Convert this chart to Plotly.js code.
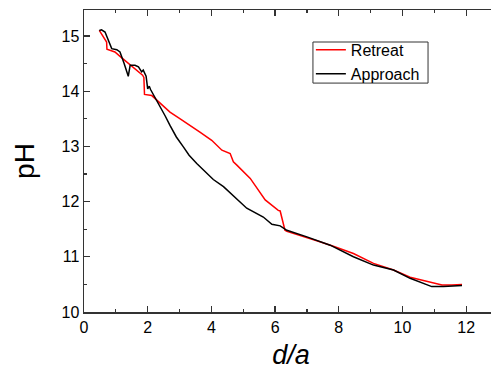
<!DOCTYPE html>
<html>
<head>
<meta charset="utf-8">
<script src="https://cdn.plot.ly/plotly-3.0.1.min.js"></script>
<style>
html, body { margin: 0; padding: 0; overflow: hidden; background: #fff; }
#chart { width: 498px; height: 374px; }
</style>
</head>
<body>
<div id="chart"></div>
<script>
// Retreat (red)
const retreatX = [0.48, 0.60, 0.71, 0.72, 0.85, 0.97, 1.15, 1.34, 1.60, 1.84, 1.88, 1.90, 2.13, 2.40, 2.70, 3.02, 3.35, 3.64, 4.01, 4.33, 4.59, 4.69, 4.80, 5.22, 5.69, 6.10, 6.16, 6.31, 6.37, 6.79, 7.31, 7.83, 8.46, 9.09, 9.72, 10.24, 10.77, 10.97, 11.24, 11.55, 11.87];
const retreatY = [15.10, 15.00, 14.89, 14.76, 14.74, 14.71, 14.62, 14.53, 14.41, 14.29, 14.25, 13.94, 13.92, 13.77, 13.62, 13.50, 13.38, 13.26, 13.11, 12.93, 12.87, 12.72, 12.66, 12.42, 12.03, 11.84, 11.83, 11.48, 11.46, 11.39, 11.29, 11.19, 11.06, 10.88, 10.76, 10.63, 10.55, 10.52, 10.49, 10.49, 10.50];
// Approach (black)
const approachX = [0.48, 0.55, 0.66, 0.75, 0.82, 0.87, 1.03, 1.13, 1.26, 1.39, 1.45, 1.60, 1.71, 1.81, 1.86, 1.95, 2.00, 2.05, 2.09, 2.23, 2.39, 2.55, 2.70, 2.90, 3.12, 3.30, 3.54, 3.80, 4.06, 4.38, 4.70, 5.11, 5.63, 5.90, 6.16, 6.37, 7.00, 7.73, 8.46, 9.09, 9.72, 10.24, 10.92, 11.29, 11.87];
const approachY = [15.10, 15.11, 15.07, 14.95, 14.83, 14.77, 14.75, 14.71, 14.50, 14.27, 14.47, 14.47, 14.44, 14.35, 14.38, 14.27, 14.04, 14.09, 14.03, 13.89, 13.71, 13.55, 13.38, 13.17, 12.99, 12.84, 12.69, 12.54, 12.40, 12.27, 12.10, 11.88, 11.72, 11.59, 11.56, 11.48, 11.36, 11.21, 11.00, 10.85, 10.76, 10.61, 10.46, 10.46, 10.48];

const seriesNames = ['Retreat', 'Approach'];
const xTitle = '<i>d/a</i>';
const yTitle = 'pH';

const FONT = 'Liberation Sans, Arial, sans-serif';

const traces = [
  { x: retreatX, y: retreatY, name: seriesNames[0], mode: 'lines', type: 'scatter',
    line: { color: '#ff0000', width: 1.5 } },
  { x: approachX, y: approachY, name: seriesNames[1], mode: 'lines', type: 'scatter',
    line: { color: '#000000', width: 1.5 } }
];

const axisCommon = {
  showgrid: false, zeroline: false,
  showline: true, linecolor: '#333', linewidth: 1.5,
  ticks: 'inside', ticklen: 6, tickwidth: 1.2, tickcolor: '#333',
  mirror: 'ticks',
  tickfont: { family: FONT, size: 16, color: '#000' }
};

const layout = {
  width: 498, height: 374,
  margin: { l: 84, r: 0, t: 10, b: 62 },
  paper_bgcolor: '#fff', plot_bgcolor: '#fff',
  font: { family: FONT, color: '#000' },
  showlegend: true,
  legend: {
    x: 0.548, y: 0.924, xanchor: 'left', yanchor: 'top',
    borderwidth: 0, bgcolor: 'rgba(255,255,255,0)',
    font: { family: FONT, size: 16, color: '#000' },
    tracegroupgap: 0
  },
  shapes: [
    { type: 'rect', xref: 'paper', yref: 'paper', x0: 0.553, x1: 0.831, y0: 0.758, y1: 0.894,
      line: { color: '#333', width: 1 }, fillcolor: 'rgba(0,0,0,0)' }
  ],
  xaxis: Object.assign({}, axisCommon, {
    range: [0, 13], dtick: 2, tick0: 0,
    minor: { dtick: 1, ticks: 'inside', ticklen: 3, tickcolor: '#333', tickwidth: 1.2 },
    title: { text: xTitle, font: { family: FONT, size: 27 }, standoff: 10 }
  }),
  yaxis: Object.assign({}, axisCommon, {
    range: [10, 15.47], dtick: 1, tick0: 10,
    minor: { dtick: 0.5, ticks: 'inside', ticklen: 3, tickcolor: '#333', tickwidth: 1.2 },
    ticklabelstandoff: 0,
    title: { text: yTitle, font: { family: FONT, size: 28 }, standoff: 18 }
  })
};

Plotly.newPlot('chart', traces, layout, { displayModeBar: false, staticPlot: true });
</script>
</body>
</html>
